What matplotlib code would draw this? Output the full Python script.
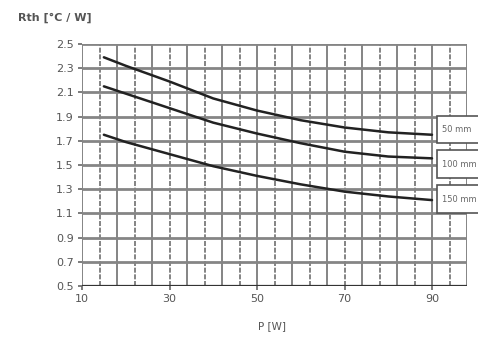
import matplotlib
matplotlib.use("Agg")
import matplotlib.pyplot as plt
from matplotlib.patches import Rectangle

# Data
power = [15, 20, 30, 40, 50, 60, 70, 80, 90]
rth_50 = [2.39, 2.32, 2.19, 2.05, 1.95, 1.87, 1.81, 1.77, 1.75]
rth_100 = [2.15, 2.09, 1.97, 1.85, 1.76, 1.68, 1.61, 1.57, 1.555]
rth_150 = [1.75, 1.69, 1.59, 1.49, 1.41, 1.34, 1.28, 1.24, 1.21]
series_labels = ["50 mm", "100 mm", "150 mm"]
x_ticks = [10, 30, 50, 70, 90]
y_ticks = [0.5, 0.7, 0.9, 1.1, 1.3, 1.5, 1.7, 1.9, 2.1, 2.3, 2.5]
v_grid = list(range(10, 99, 4))

fig = plt.figure(figsize=(4.78, 3.40), dpi=100)
ax = fig.add_axes([82/478, 1-286/340, (467-82)/478, (286-44)/340])
ax.set_xlim(10, 98)
ax.set_ylim(0.5, 2.5)

for i, x in enumerate(v_grid):
    ax.axvline(x, color="#707070", lw=1.2, zorder=1,
               ls=(0, (3, 1)) if i % 2 else "-")
for y in y_ticks:
    ax.axhline(y, color="#858585", lw=2.0, zorder=1)

for s in (rth_50, rth_100, rth_150):
    ax.plot(power, s, color="#222222", lw=1.8, zorder=3,
            solid_capstyle="round")

for sp in ax.spines.values():
    sp.set_visible(False)
ax.axhline(0.5, color="#333333", lw=1.6, zorder=2)

ax.set_xticks(x_ticks)
ax.set_yticks(y_ticks)
ax.set_yticklabels([f"{v:.1f}" for v in y_ticks])
ax.tick_params(axis="both", length=3, width=1.2, color="#666666",
               labelsize=8, labelcolor="#555555", pad=3)

# Series labels in boxes at the right edge
for lab, (ytop, ybot) in zip(series_labels, [(116, 143), (150, 178), (185, 213)]):
    fig.patches.append(Rectangle((437/478, 1-ybot/340), 60/478, (ybot-ytop)/340,
                                 transform=fig.transFigure, fc="white",
                                 ec="#555555", lw=1.2, zorder=5))
    fig.text(442/478, 1-(ytop+ybot)/2/340, lab, fontsize=6, color="#666666",
             va="center", ha="left", zorder=6)

fig.text(18/478, 1-18/340, "Rth [°C / W]", fontsize=8, color="#555555",
         fontweight="bold", va="center", ha="left")
fig.text(272/478, 1-326/340, "P [W]", fontsize=7.5, color="#555555",
         va="center", ha="center")

fig.savefig("out.png", dpi=100)
